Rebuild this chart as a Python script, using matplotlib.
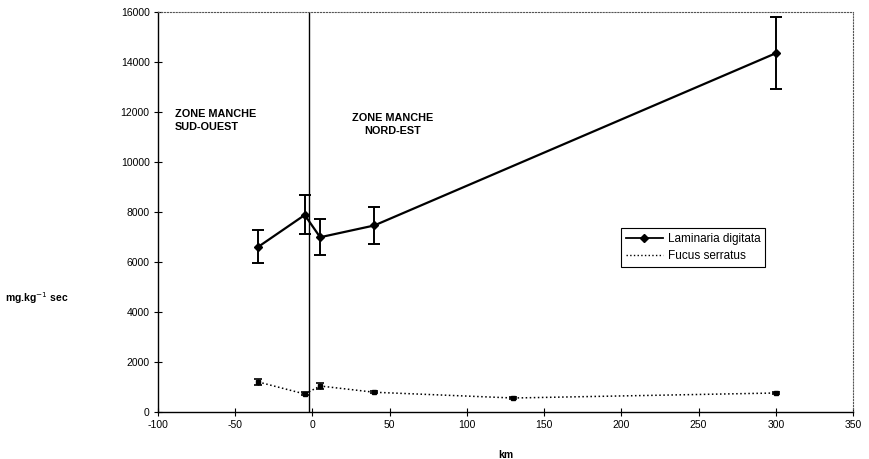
import matplotlib
matplotlib.use('Agg')
import matplotlib.pyplot as plt
from matplotlib.lines import Line2D

plt.rcParams['font.family'] = ['Liberation Sans', 'DejaVu Sans']
plt.rcParams['axes.unicode_minus'] = False

# Laminaria digitata
lam_km = [-35, -5, 5, 40, 300]
lam_val = [6610, 7880, 6990, 7460, 14350]
lam_err = [650, 780, 720, 750, 1450]

# Fucus serratus
fuc_km = [-35, -5, 5, 40, 130, 300]
fuc_val = [1200, 720, 1040, 790, 560, 760]
fuc_err = [130, 60, 110, 50, 40, 50]

border_km = -2  # limit between the two zones

fig = plt.figure(figsize=(8.69, 4.59), dpi=100)
ax = fig.add_axes([0.1818, 0.1024, 0.7998, 0.8715])

ax.errorbar(lam_km, lam_val, yerr=lam_err, color='black', lw=1.6, marker='D', ms=4.5,
            capsize=4, elinewidth=1.4, capthick=1.4)
ax.errorbar(fuc_km, fuc_val, yerr=fuc_err, color='black', lw=1.1, ls=':', marker='s', ms=3,
            capsize=3, elinewidth=1.0, capthick=1.2)

ax.axvline(border_km, color='black', lw=1.0)

ax.text(-89, 11650, 'ZONE MANCHE\nSUD-OUEST', fontsize=7.8, fontweight='bold', ha='left', va='center',
        linespacing=1.35)
ax.text(52, 11500, 'ZONE MANCHE\nNORD-EST', fontsize=7.8, fontweight='bold', ha='center', va='center',
        linespacing=1.35)

ax.set_xlim(-100, 350)
ax.set_ylim(0, 16000)
ax.set_xticks(range(-100, 351, 50))
ax.set_yticks(range(0, 16001, 2000))
ax.tick_params(direction='inout', length=6, width=0.8, labelsize=7.5, pad=3)

for side in ['top', 'right']:
    ax.spines[side].set_linestyle(':')
    ax.spines[side].set_linewidth(0.8)
    ax.spines[side].set_color('#555555')
ax.spines['left'].set_linewidth(1.0)
ax.spines['bottom'].set_linewidth(1.0)

ax.set_xlabel('km', fontsize=7.5, fontweight='bold', labelpad=14)
fig.text(0.006, 0.35, 'mg.kg$^{-1}$ sec', fontsize=7.5, fontweight='bold', ha='left', va='center')

handles = [Line2D([], [], color='black', lw=1.3, marker='D', ms=4),
           Line2D([], [], color='black', lw=1.0, ls=':')]
leg = ax.legend(handles, ['Laminaria digitata', 'Fucus serratus'], loc='upper left',
                bbox_to_anchor=(0.666, 0.46), fontsize=8.5, frameon=True,
                fancybox=False, edgecolor='black', handlelength=3.2, borderpad=0.4,
                labelspacing=0.45, handletextpad=0.35, borderaxespad=0)
leg.get_frame().set_linewidth(0.8)
leg.get_frame().set_alpha(1)

fig.savefig('out.png', dpi=100)
